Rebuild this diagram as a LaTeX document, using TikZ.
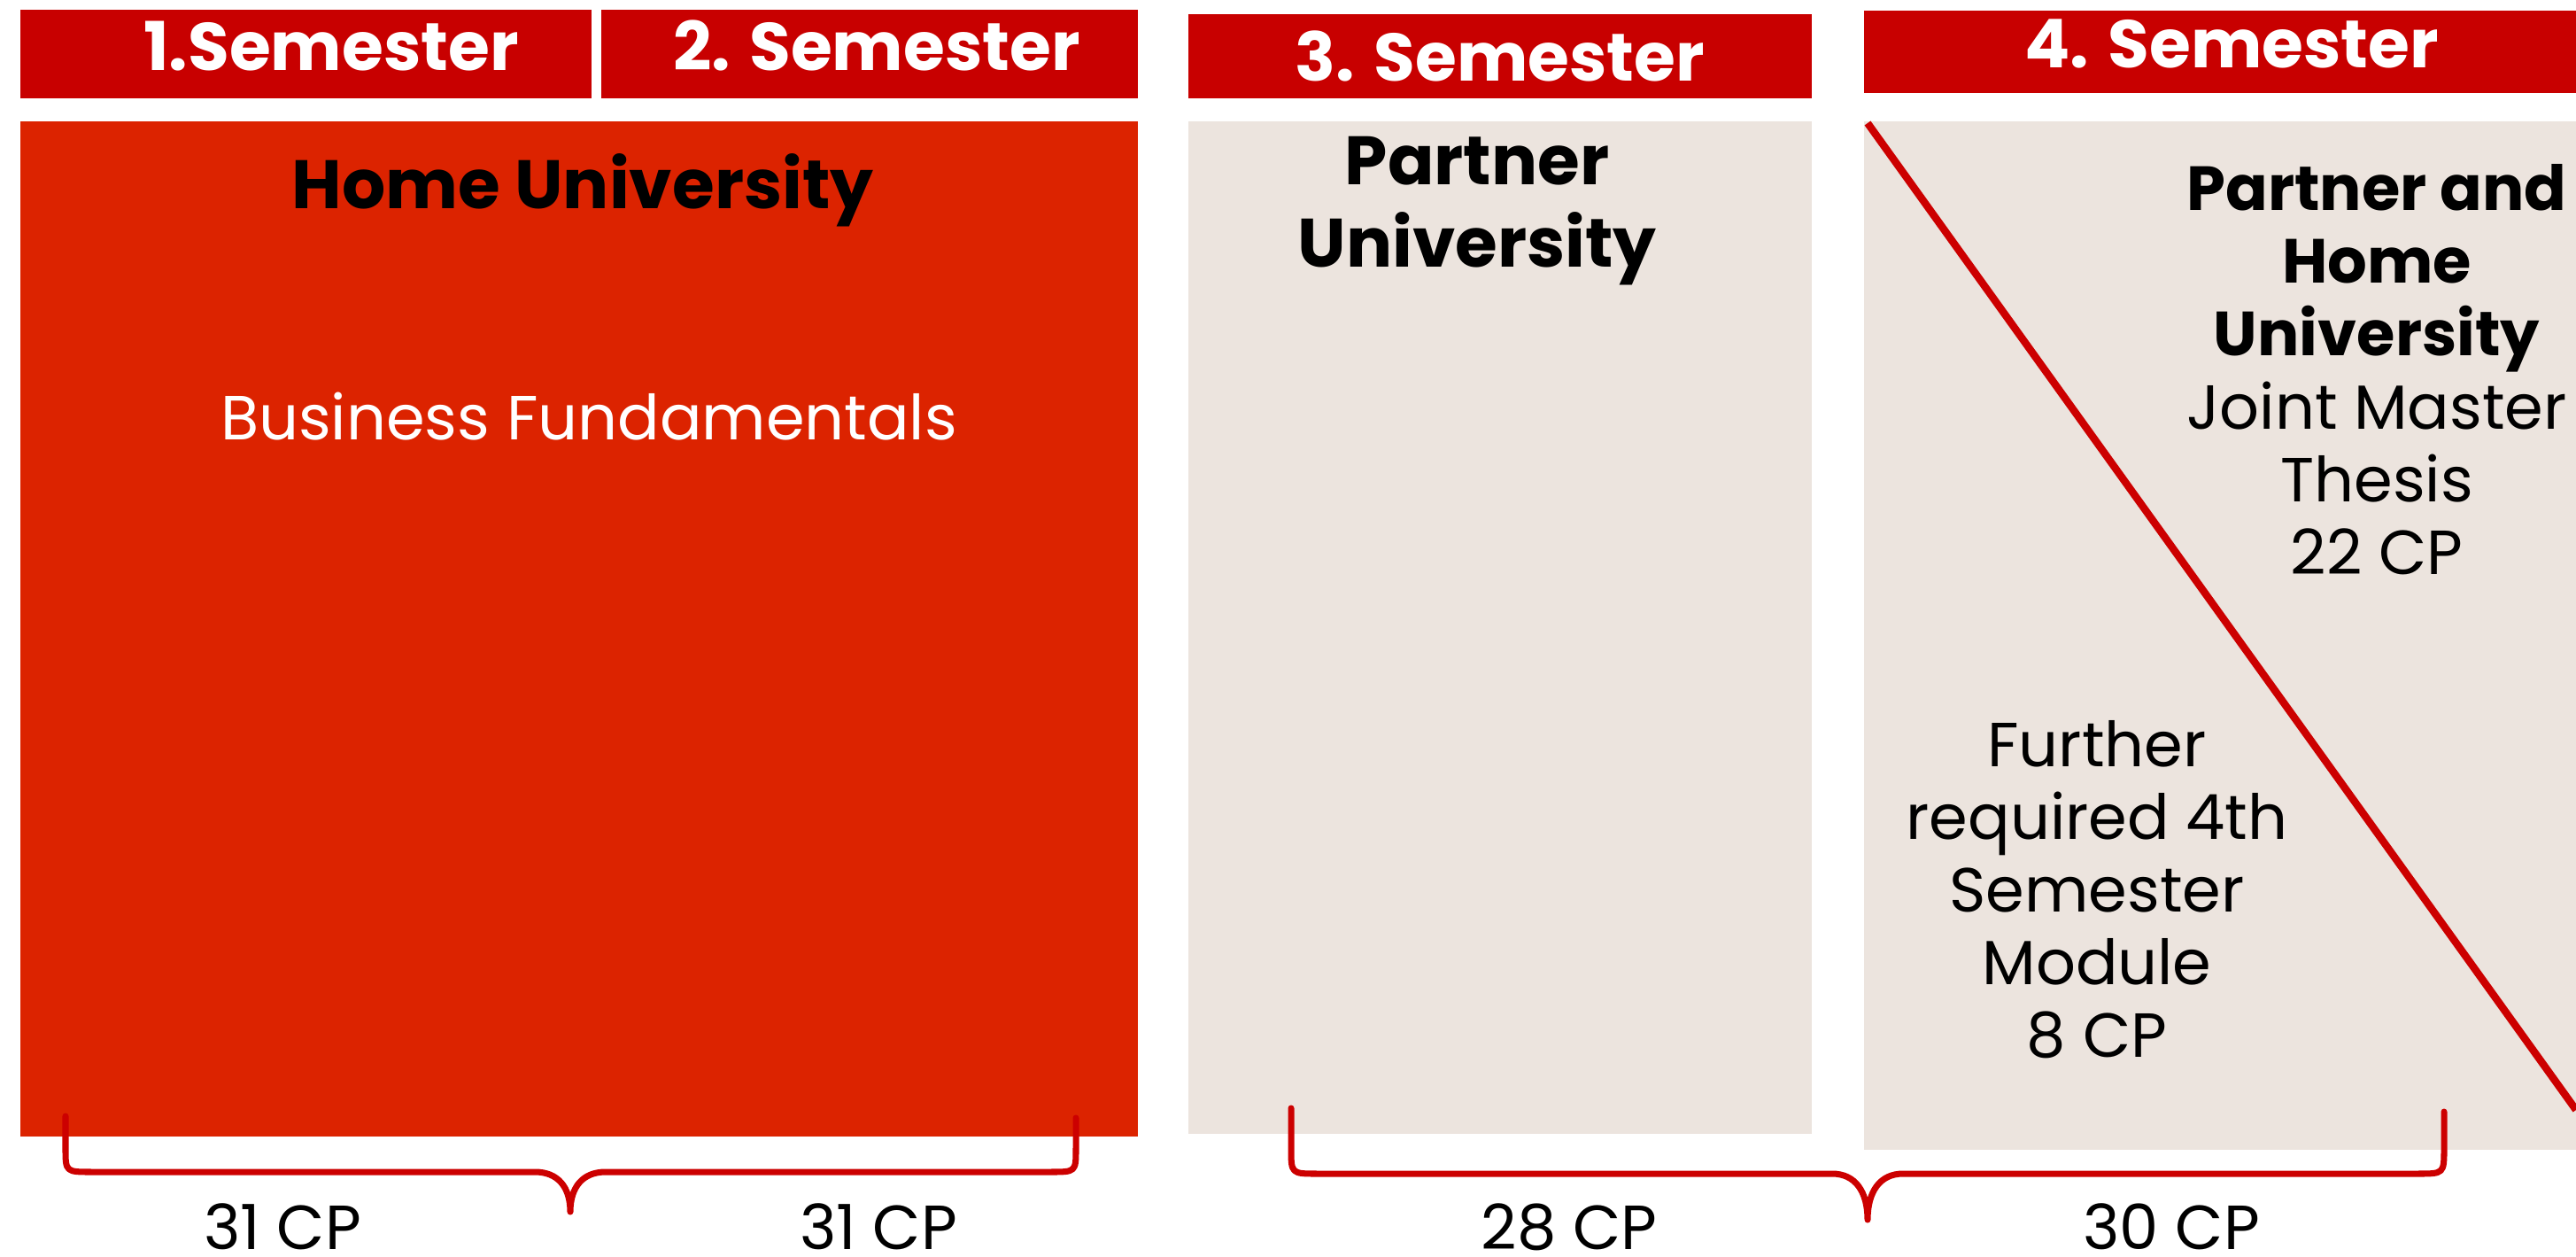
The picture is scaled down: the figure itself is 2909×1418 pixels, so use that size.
\documentclass[tikz,border=0pt]{standalone}
\usepackage{fontspec}
\setmainfont{Poppins}
\definecolor{semred}{HTML}{C80000}
\definecolor{homered}{HTML}{DC2300}
\definecolor{partnergray}{HTML}{ECE4DE}
\definecolor{linered}{HTML}{CC0000}

\begin{document}
\begin{tikzpicture}[x=0.01cm,y=-0.01cm,
  semtext/.style={text=white,font=\bfseries\fontsize{21.6}{24}\selectfont,anchor=base,inner sep=0pt},
  head/.style={font=\bfseries\fontsize{22}{23.3}\selectfont,anchor=base,inner sep=0pt,align=center},
  body/.style={font=\fontsize{20}{23.3}\selectfont,anchor=base,inner sep=0pt,align=center},
  brace/.style={draw=linered,line width=2pt,line cap=round,line join=round}]
\useasboundingbox (0,0) rectangle (2909,1418);
% semester bars
\fill[semred] (23,11) rectangle (668,111);
\fill[semred] (679,11) rectangle (1285,111);
\fill[semred] (1342,16) rectangle (2046,111);
\fill[semred] (2105,12) rectangle (2909,105);
\node[semtext] (s1) at (374,79) {1.Semester};
\node[semtext] (s2) at (990,79) {2. Semester};
\node[semtext] (s3) at (1694,91) {3. Semester};
\node[semtext] (s4) at (2520,77) {4. Semester};
% blocks
\fill[homered] (23,137) rectangle (1285,1283);
\fill[partnergray] (1342,137) rectangle (2046,1280);
\fill[partnergray] (2105,137) rectangle (2909,1298);
\draw[linered,line width=2.4pt] (2109,139) -- (2909,1253);
\node[head] (home) at (658,235) {Home University};
\node[body,text=white] (fund) at (665,496) {Business Fundamentals};
\node[head,font=\bfseries\fontsize{22}{26.4}\selectfont] (partner) at (1668,301) {Partner\\University};
\node[head,font=\bfseries\fontsize{20}{23.3}\selectfont] (joint) at (2684,401) {Partner and\\Home\\University};
\node[body] (thesis) at (2684,648) {Joint Master\\Thesis\\22 CP};
\node[body] (further) at (2368,1193) {Further\\required 4th\\Semester\\Module\\8 CP};
% braces
\draw[brace] (74,1260) -- (74,1296) .. controls (74,1323) .. (104,1323) -- (604,1323)
  .. controls (630,1323) and (644,1340) .. (644,1368)
  .. controls (644,1340) and (658,1323) .. (684,1323) -- (1186,1323)
  .. controls (1215,1323) .. (1215,1296) -- (1215,1262);
\draw[brace] (1458,1251) -- (1458,1296) .. controls (1458,1325) .. (1488,1325) -- (2069,1325)
  .. controls (2095,1325) and (2109,1345) .. (2109,1377)
  .. controls (2109,1345) and (2123,1325) .. (2149,1325) -- (2730,1325)
  .. controls (2760,1325) .. (2760,1296) -- (2760,1255);
\node[body,text depth=0pt] (cp1) at (319,1410) {31 CP};
\node[body,text depth=0pt] (cp2) at (992,1410) {31 CP};
\node[body,text depth=0pt] (cp3) at (1772,1410) {28 CP};
\node[body,text depth=0pt] (cp4) at (2452,1410) {30 CP};
\end{tikzpicture}
\end{document}
